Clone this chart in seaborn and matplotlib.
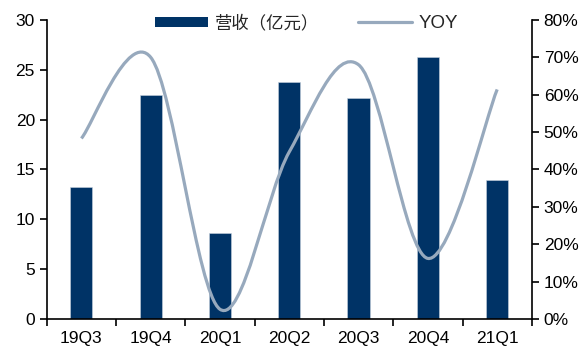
import numpy as np
import pandas as pd
import matplotlib
matplotlib.use("Agg")
import matplotlib.pyplot as plt
import seaborn as sns
from matplotlib.path import Path
from matplotlib.patches import PathPatch
from matplotlib.lines import Line2D
from matplotlib.patches import Patch
from matplotlib.ticker import FuncFormatter, FixedLocator

quarters = ["19Q3", "19Q4", "20Q1", "20Q2", "20Q3", "20Q4", "21Q1"]
revenue = [13.2, 22.5, 8.6, 23.8, 22.2, 26.3, 13.9]
yoy = [0.483, 0.70, 0.026, 0.447, 0.68, 0.162, 0.614]

bar_color = "#003366"
line_color = "#97a9bd"

sns.set_theme(style="white")
plt.rcParams['font.family'] = ['Liberation Sans', 'Noto Sans CJK SC', 'DejaVu Sans']

fig = plt.figure(figsize=(5.87, 3.49), dpi=100)
ax = fig.add_axes([0.0796, 0.086, 0.8264, 0.857])

df = pd.DataFrame({"q": quarters, "rev": revenue})
sns.barplot(data=df, x="q", y="rev", color=bar_color, width=0.32, ax=ax,
            saturation=1, edgecolor="#c8d3de", linewidth=0.4)
ax.set_xlim(-0.5, len(quarters) - 0.5)
ax.set_ylim(0, 30)
ax.set_yticks(range(0, 31, 5))
ax.set_xlabel("")
ax.set_ylabel("")

ax.xaxis.set_major_locator(FixedLocator(np.arange(-0.5, len(quarters), 1.0)))
ax.xaxis.set_major_formatter(plt.NullFormatter())
ax.xaxis.set_minor_locator(FixedLocator(np.arange(len(quarters))))
ax.set_xticklabels(quarters, minor=True)
ax.tick_params(axis="x", which="major", direction="out", length=5, width=1.2, color="black", bottom=True)
ax.tick_params(axis="x", which="minor", length=0, labelsize=12.5, pad=9, colors="black")
ax.tick_params(axis="y", direction="out", length=5, width=1.2, color="black", left=True, labelsize=12.5, labelcolor="black")

for s in ["left", "bottom"]:
    ax.spines[s].set_color("black")
    ax.spines[s].set_linewidth(1.2)
ax.spines["top"].set_visible(False)
ax.spines["right"].set_visible(False)

ax2 = ax.twinx()
ax2.set_ylim(0, 0.8)
ax2.set_yticks(np.arange(0, 0.81, 0.1))
ax2.yaxis.set_major_formatter(FuncFormatter(lambda v, p: f"{v*100:.0f}%"))
ax2.tick_params(axis="y", direction="out", length=5, width=1.2, color="black", right=True, labelsize=12.5, labelcolor="black")
for s in ["left", "bottom", "top"]:
    ax2.spines[s].set_visible(False)
ax2.spines["right"].set_color("black")
ax2.spines["right"].set_linewidth(1.2)
ax2.grid(False)
ax.grid(False)

# smooth line through data points (Catmull-Rom as cubic Bezier segments)
xs = np.arange(len(yoy), dtype=float)
ys = np.array(yoy, dtype=float)
verts = [(xs[0], ys[0])]
codes = [Path.MOVETO]
n = len(xs)
for i in range(n - 1):
    p0 = (xs[max(i - 1, 0)], ys[max(i - 1, 0)])
    p1 = (xs[i], ys[i])
    p2 = (xs[i + 1], ys[i + 1])
    p3 = (xs[min(i + 2, n - 1)], ys[min(i + 2, n - 1)])
    c1 = (p1[0] + (p2[0] - p0[0]) / 6, p1[1] + (p2[1] - p0[1]) / 6)
    c2 = (p2[0] - (p3[0] - p1[0]) / 6, p2[1] - (p3[1] - p1[1]) / 6)
    verts += [c1, c2, p2]
    codes += [Path.CURVE4] * 3
ax2.add_patch(PathPatch(Path(verts, codes), facecolor="none", edgecolor=line_color, lw=2.3, capstyle="butt"))

handles = [Patch(facecolor=bar_color, edgecolor="none"), Line2D([0], [0], color=line_color, lw=2.3)]
labels = ["营收（亿元）", "YOY"]
leg = ax.legend(handles, labels, loc="center", bbox_to_anchor=(0.535, 0.99), ncol=2, frameon=False,
                handlelength=3.1, handleheight=0.5, columnspacing=2.2, handletextpad=0.4,
                prop={"family": ["Noto Sans CJK SC", "DejaVu Sans"], "size": 12.5})
for t in leg.get_texts():
    if t.get_text() == "YOY":
        t.set_fontfamily(["Liberation Sans", "DejaVu Sans"])
        t.set_fontsize(13.5)

fig.savefig("out.png", dpi=100)
